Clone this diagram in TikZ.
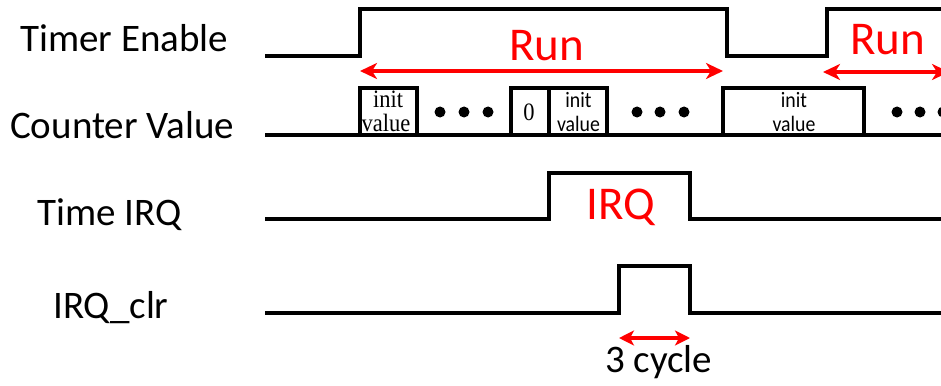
\documentclass[tikz,border=0pt]{standalone}
\usepackage{fontspec}
\setmainfont{Carlito}
\newfontfamily\serifbox{Liberation Serif}
\usetikzlibrary{arrows.meta}
\tikzset{
  wave/.style={line width=4pt, line join=miter, black},
  runarrow/.style={line width=4pt, red, {Stealth[length=17pt,width=16pt,inset=5pt]}-{Stealth[length=17pt,width=16pt,inset=5pt]}},
  cycarrow/.style={line width=3.5pt, red, {Stealth[length=15pt,width=15pt,inset=4pt]}-{Stealth[length=15pt,width=15pt,inset=4pt]}},
  lbl/.style={inner sep=0pt, anchor=base west, font=\fontsize{39}{44}\selectfont},
  redlbl/.style={inner sep=0pt, anchor=base west, text=red, font=\fontsize{47}{50}\selectfont},
  serval/.style={inner sep=0pt, anchor=base, xscale=0.9, font=\serifbox\fontsize{25}{27}\selectfont},
  sansval/.style={inner sep=0pt, anchor=base, xscale=0.9, font=\fontsize{22}{24}\selectfont},
  dot/.style={circle, fill=black, inner sep=0pt, minimum size=11pt}
}
\begin{document}
\begin{tikzpicture}[x=1pt,y=-1pt]
\clip (0,0) rectangle (941,385);
\fill[white] (0,0) rectangle (941,385);
% labels
\node[lbl] (lte) at (20,52) {Timer Enable};
\node[lbl] (lcv) at (10,138) {Counter Value};
\node[lbl] (lti) at (37,225) {Time IRQ};
\node[lbl] (lclr) at (53,318) {IRQ\_clr};
% Timer enable
\draw[wave] (265,56) -- (360,56) -- (360,9) -- (727,9) -- (727,56) -- (827,56) -- (827,9) -- (945,9);
% Counter value
\draw[wave] (265,135) -- (945,135);
\draw[wave] (360,135) -- (360,88) -- (417,88) -- (417,135);
\draw[wave] (511,135) -- (511,88) -- (607,88) -- (607,135);
\draw[wave] (549,88) -- (549,135);
\draw[wave] (723,135) -- (723,88) -- (864,88) -- (864,135);
\node[serval] (v1a) at (388,107) {init};
\node[serval] (v1b) at (386,131) {value};
\node[serval] (v0) at (529,121) {0};
\node[sansval] (v2a) at (578.5,107) {init};
\node[sansval] (v2b) at (578.5,131) {value};
\node[sansval] (v3a) at (794,107) {init};
\node[sansval] (v3b) at (794,131) {value};
\node[dot] (d1) at (440,112) {};
\node[dot] (d2) at (464,112) {};
\node[dot] (d3) at (488,112) {};
\node[dot] (d4) at (637,112) {};
\node[dot] (d5) at (660,112) {};
\node[dot] (d6) at (684,112) {};
\node[dot] (d7) at (897,112) {};
\node[dot] (d8) at (920,112) {};
\node[dot] (d9) at (943,112) {};
% Run arrows
\coordinate (r1a) at (360,71);
\coordinate (r1b) at (723,71);
\coordinate (r2a) at (823,72);
\coordinate (r2b) at (949,72);
\draw[runarrow] (r1a) -- (r1b);
\draw[runarrow] (r2a) -- (r2b);
\node[redlbl] (run1) at (509,61) {Run};
\node[redlbl] (run2) at (850,55) {Run};
% Time IRQ
\draw[wave] (265,219) -- (549,219) -- (549,173) -- (690,173) -- (690,219) -- (945,219);
\node[redlbl] (irq) at (586,219) {IRQ};
% IRQ_clr
\draw[wave] (265,313) -- (619,313) -- (619,266) -- (690,266) -- (690,313) -- (945,313);
\coordinate (c1) at (619,338);
\coordinate (c2) at (690,338);
\draw[cycarrow] (c1) -- (c2);
\node[lbl] (cyc) at (605,372) {3 cycle};
\end{tikzpicture}
\end{document}
